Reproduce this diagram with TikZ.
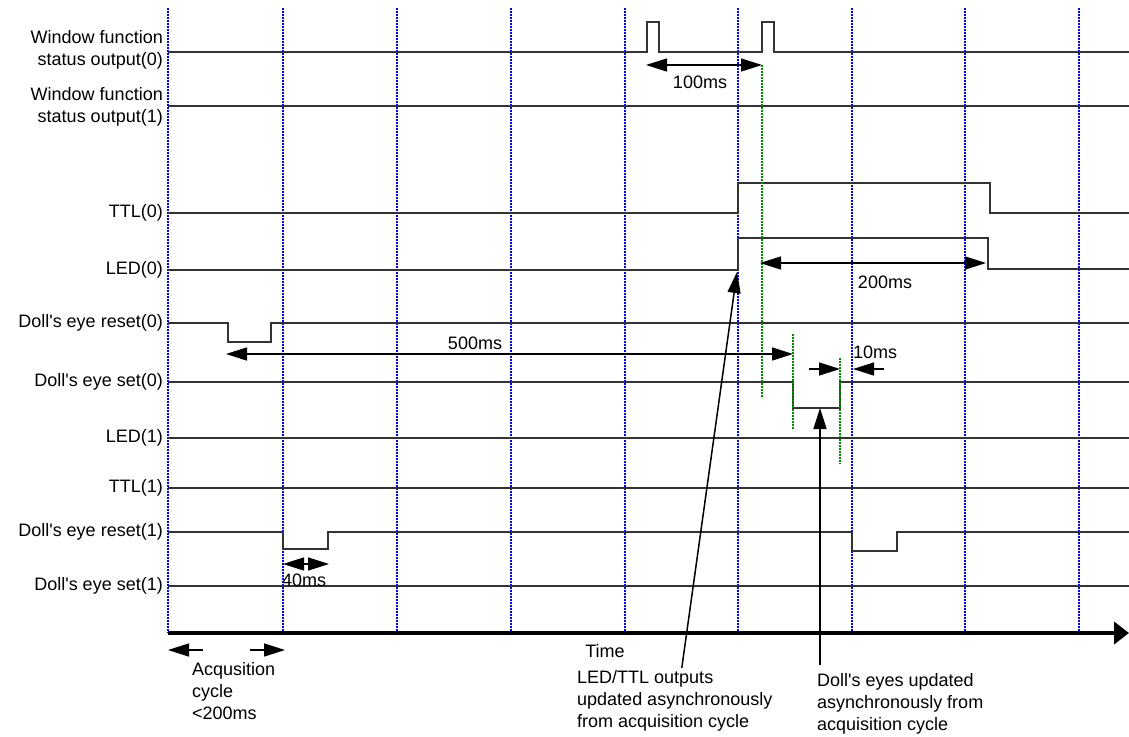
\documentclass[tikz,border=0pt]{standalone}
\usepackage{fontspec}
\setmainfont{Liberation Sans}
\usetikzlibrary{arrows.meta}
\definecolor{updgreen}{RGB}{0,140,0}

\begin{document}
\begin{tikzpicture}[x=1pt,y=-1pt,
        every node/.style={font=\fontsize{18}{22}\selectfont,inner sep=0pt},
        sig/.style={line width=1.5pt,black!80},
        tick/.style={blue,line width=2.5pt,dash pattern=on 2pt off 1pt},
        upd/.style={updgreen,line width=2.5pt,dash pattern=on 2pt off 1pt},
        dimen/.style={line width=1.5pt,{Triangle[length=21pt,width=13pt]}-{Triangle[length=21pt,width=13pt]}},
        pointer/.style={line width=1.5pt,-{Triangle[length=21pt,width=13pt]}}]
                \useasboundingbox (0,0) rectangle (1129,736);
                \foreach \x in {168,283,397,511,625,738,852,965,1079}
                \draw[tick] (\x,8) -- (\x,633);
                \node[align=right,anchor=east] (wf0) at (163,50) {Window function\\status output(0)};
                \node[align=right,anchor=east] (wf1) at (163,107) {Window function\\status output(1)};
                \foreach \y/\n/\t in {213/ttl0/TTL(0), 270/led0/LED(0), 323/der0/Doll\textquotesingle s eye reset(0), 382/des0/Doll\textquotesingle s eye set(0), 438/led1/LED(1), 488/ttl1/TTL(1), 532/der1/Doll\textquotesingle s eye reset(1), 586/des1/Doll\textquotesingle s eye set(1)}
                \node[anchor=east] (\n) at (163,\y) {\t};
                % signals
                \draw[sig] (168,52) -- (647,52) -- (647,22) -- (659,22) -- (659,52) -- (762,52) -- (762,22) -- (774,22) -- (774,52) -- (1129,52);
                \draw[sig] (168,106) -- (1129,106);
                \draw[sig] (168,213) -- (738,213) -- (738,183) -- (990,183) -- (990,213) -- (1129,213);
                \draw[sig] (168,270) -- (738,270) -- (738,238) -- (988,238) -- (988,269) -- (1129,269);
                \draw[sig] (168,323) -- (228,323) -- (228,342) -- (271,342) -- (271,323) -- (1129,323);
                \draw[sig] (168,382) -- (793,382) -- (793,408) -- (840,408) -- (840,382) -- (1129,382);
                \draw[sig] (168,438) -- (1129,438);
                \draw[sig] (168,488) -- (1129,488);
                \draw[sig] (168,532) -- (283,532) -- (283,549) -- (328,549) -- (328,532) -- (852,532) -- (852,551) -- (897,551) -- (897,532) -- (1129,532);
                \draw[sig] (168,586) -- (1129,586);
                % time axis
                \draw[line width=4pt,-{Triangle[length=15pt,width=22pt]}] (168,633) -- (1129,633);
                \node (time) at (605,651) {Time};
                % asynchronous updates
                \draw[upd] (762,65) -- (762,397);
                \draw[upd] (793,334) -- (793,429);
                \draw[upd] (840,358) -- (840,464);
                % timings
                \coordinate (p1) at (646,65); \coordinate (p2) at (762,65);
                \draw[dimen] (p1) -- (p2);
                \node (t100) at (700,82) {100ms};
                \coordinate (l1) at (760,263); \coordinate (l2) at (986,263);
                \draw[dimen] (l1) -- (l2);
                \node (t200) at (885,282) {200ms};
                \coordinate (r1) at (226,354); \coordinate (r2) at (793,354);
                \draw[dimen] (r1) -- (r2);
                \node (t500) at (475,343) {500ms};
                \coordinate (s1) at (809,369); \coordinate (s2) at (840,369);
                \coordinate (s3) at (884,369); \coordinate (s4) at (853,369);
                \draw[pointer] (s1) -- (s2);
                \draw[pointer] (s3) -- (s4);
                \node[anchor=west] (t10) at (853,352) {10ms};
                \coordinate (d1) at (283,564); \coordinate (d2) at (306,564); \coordinate (d3) at (329,564);
                \draw[pointer] (d2) -- (d1);
                \draw[pointer] (d2) -- (d3);
                \node[anchor=west] (t40) at (282,580) {40ms};
                % acquisition cycle
                \coordinate (a1) at (203,650); \coordinate (a2) at (168,650);
                \coordinate (a3) at (250,650); \coordinate (a4) at (285,650);
                \draw[pointer] (a1) -- (a2);
                \draw[pointer] (a3) -- (a4);
                \node[align=left,anchor=north west] (acq) at (192,662) {Acqusition\\cycle\\<200ms};
                % notes
                \node[align=left,anchor=north west] (ledtxt) at (577,670) {LED/TTL outputs\\updated asynchronously\\from acquisition cycle};
                \coordinate (ledrise) at (737,272);
                \draw[pointer] ([xshift=7pt,yshift=2pt]ledtxt.north) -- (ledrise);
                \node[align=left,anchor=north west] (dolltxt) at (817,673) {Doll\textquotesingle s eyes updated\\asynchronously from\\acquisition cycle};
                \coordinate (dollset) at (820,408);
                \draw[pointer] (dolltxt.north west -| dollset) ++(0,-8) -- (dollset);
            \end{tikzpicture}
\end{document}
